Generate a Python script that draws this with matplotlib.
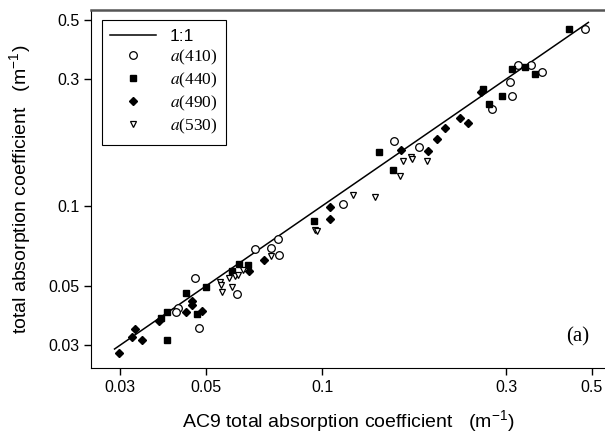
import numpy as np
import matplotlib
matplotlib.use("Agg")
import matplotlib.pyplot as plt

plt.rcParams['font.family'] = ['Liberation Sans', 'DejaVu Sans']
plt.rcParams['mathtext.fontset'] = 'stix'

# a(410) -- open circles
x410 = [0.0424, 0.0419, 0.0470, 0.0481, 0.0601, 0.0671, 0.0736, 0.0767, 0.0772,
        0.113, 0.154, 0.178, 0.275, 0.307, 0.311, 0.321, 0.347, 0.372, 0.481]
y410 = [0.0414, 0.0400, 0.0538, 0.0347, 0.0467, 0.0689, 0.0695, 0.0751, 0.0654,
        0.1015, 0.176, 0.167, 0.231, 0.293, 0.260, 0.338, 0.338, 0.319, 0.463]

# a(440) -- filled squares
x440 = [0.0396, 0.0383, 0.0397, 0.0444, 0.0474, 0.0501, 0.0584, 0.0610, 0.0642,
        0.0955, 0.1405, 0.1525, 0.261, 0.270, 0.2935, 0.310, 0.335, 0.357, 0.437]
y440 = [0.0313, 0.0379, 0.0401, 0.0472, 0.0393, 0.0497, 0.0572, 0.0605, 0.0598,
        0.0878, 0.159, 0.137, 0.275, 0.242, 0.259, 0.327, 0.332, 0.314, 0.462]

# a(490) -- filled diamonds
x490 = [0.0297, 0.0321, 0.0328, 0.0342, 0.0377, 0.0443, 0.0460, 0.0460, 0.0488,
        0.0647, 0.0706, 0.1049, 0.1049, 0.160, 0.188, 0.198, 0.208, 0.228, 0.239, 0.258]
y490 = [0.0279, 0.0323, 0.0344, 0.0313, 0.0371, 0.0400, 0.0440, 0.0424, 0.0404,
        0.0570, 0.0627, 0.0994, 0.0891, 0.162, 0.161, 0.178, 0.197, 0.215, 0.205, 0.268]

# a(530) -- open down-triangles
x530 = [0.0544, 0.0546, 0.0550, 0.0575, 0.0584, 0.0595, 0.0607, 0.0623, 0.0738,
        0.0959, 0.0969, 0.1205, 0.137, 0.159, 0.162, 0.170, 0.171, 0.187]
y530 = [0.0519, 0.0505, 0.0476, 0.0538, 0.0495, 0.0544, 0.0550, 0.0575, 0.0649,
        0.0812, 0.0808, 0.110, 0.108, 0.130, 0.147, 0.153, 0.150, 0.148]

line_11 = [0.029, 0.49]
ticks = [0.03, 0.05, 0.1, 0.3, 0.5]
tick_labels = ['0.03', '0.05', '0.1', '0.3', '0.5']

fig = plt.figure(figsize=(6.05, 4.36), dpi=100)
ax = fig.add_axes([91/605, 68/436, 514/605, 358/436])

ax.plot(line_11, line_11, 'k-', lw=1.1, label='1:1')
ax.plot(x410, y410, 'o', ms=5.5, mfc='white', mec='black', mew=0.9, ls='none', label='$a$(410)')
ax.plot(x440, y440, 's', ms=4, mfc='black', mec='black', ls='none', label='$a$(440)')
ax.plot(x490, y490, 'D', ms=4, mfc='black', mec='black', ls='none', label='$a$(490)')
ax.plot(x530, y530, 'v', ms=5, mfc='white', mec='black', mew=0.9, ls='none', label='$a$(530)')

ax.set_xscale('log')
ax.set_yscale('log')
ax.set_xlim(0.0252, 0.541)
ax.set_ylim(0.0246, 0.5455)
ax.set_xticks(ticks)
ax.set_xticklabels(tick_labels)
ax.set_yticks(ticks)
ax.set_yticklabels(tick_labels)
ax.minorticks_off()
ax.tick_params(direction='out', length=5, width=1, labelsize=11.5, colors='black')

ax.spines['right'].set_visible(False)
ax.spines['top'].set_linewidth(1.8)
ax.spines['top'].set_color('#555555')

ax.set_xlabel('AC9 total absorption coefficient   (m$^{\\mathregular{-1}}$)', fontsize=14, labelpad=10)
ax.set_ylabel('total absorption coefficient   (m$^{\\mathregular{-1}}$)', fontsize=14, labelpad=10)

leg = ax.legend(loc='upper left', bbox_to_anchor=(0.021, 0.972), borderaxespad=0, frameon=True,
                fancybox=False, edgecolor='black', framealpha=1,
                prop={'family': 'Liberation Serif', 'size': 12.5},
                handlelength=2.6, labelspacing=0.22, borderpad=0.5)
leg.get_frame().set_linewidth(0.8)
leg.get_texts()[0].set_family('Liberation Sans')

ax.text(0.947, 0.087, '(a)', transform=ax.transAxes, fontsize=15, family='Liberation Serif',
        ha='center', va='center')

fig.savefig('out.png', dpi=100)
